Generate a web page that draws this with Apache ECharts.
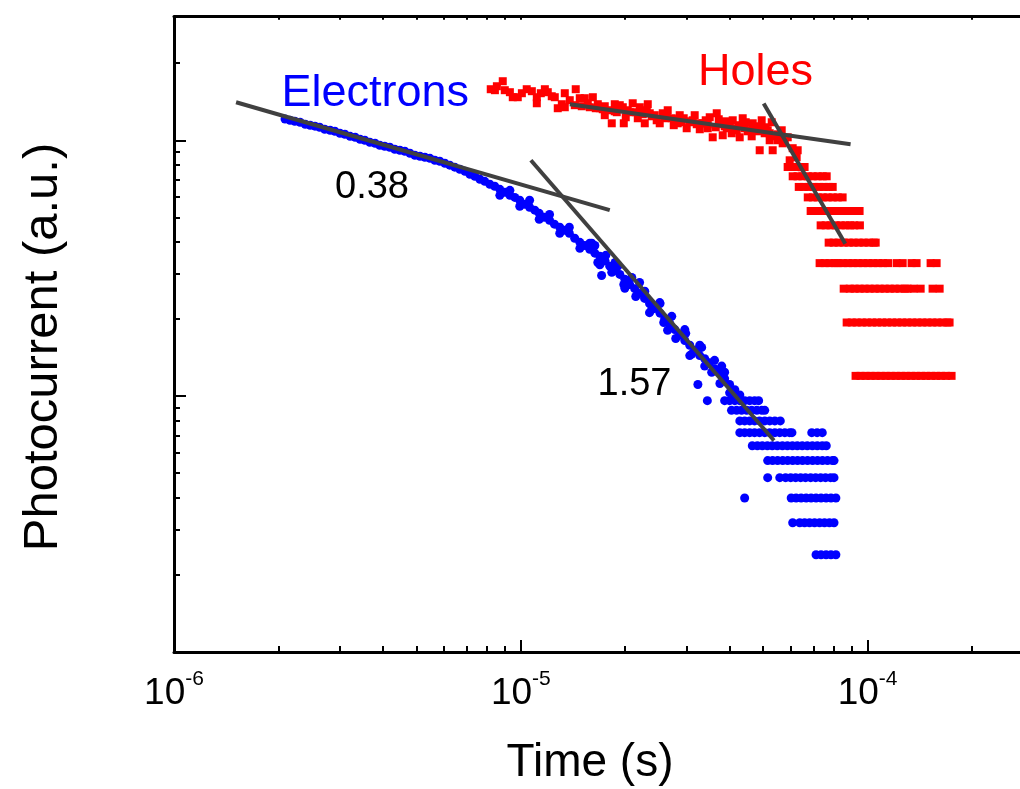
<!DOCTYPE html>
<html><head><meta charset="utf-8">
<script src="https://cdn.jsdelivr.net/npm/echarts@6/dist/echarts.min.js"></script>
<style>html,body{margin:0;padding:0;background:#fff}#c{width:1020px;height:789px}</style>
</head><body><div id="c"></div>
<script>
// ---------- axis ranges & ticks ----------
const X_MIN = 1e-6, X_MAX = 2.75e-4;
const Y_MIN = 0.1, Y_MAX = 30.4;
const xMajorTicks = [1e-6, 1e-5, 1e-4];
const xMinorTicks = [2e-6,3e-6,4e-6,5e-6,6e-6,7e-6,8e-6,9e-6,2e-5,3e-5,4e-5,5e-5,6e-5,7e-5,8e-5,9e-5,2e-4];
const yMajorTicks = [1, 10];
const yMinorTicks = [0.2,0.3,0.4,0.5,0.6,0.7,0.8,0.9,2,3,4,5,6,7,8,9,20];

// ---------- data (time in microseconds, photocurrent in a.u.) ----------
const electronCurve = [
 [2.09,12.1],[2.16,11.97],[2.23,11.86],[2.31,11.76],[2.39,11.55],[2.47,11.45],[2.55,11.35],[2.63,11.24],
 [2.72,11.04],[2.82,10.94],[2.91,10.84],[3.01,10.65],[3.11,10.55],[3.22,10.36],[3.33,10.27],[3.44,10.09],
 [3.55,10.0],[3.67,9.82],[3.80,9.73],[3.92,9.56],[4.05,9.47],[4.19,9.39],[4.33,9.22],[4.48,9.14],
 [4.63,9.06],[4.79,8.90],[4.95,8.74],[5.12,8.66],[5.29,8.58],[5.47,8.50],[5.65,8.35],[5.84,8.28],
 [6.04,8.13],[6.24,7.99],[6.45,7.85],[6.67,7.70],[6.90,7.56],[7.13,7.36],[7.37,7.23],[7.62,7.04],
 [7.87,6.91],[8.14,6.73],[8.41,6.61],
 [8.70,6.43],[9.00,6.26],[9.30,6.09],[9.61,5.98],[9.93,5.83],[10.27,5.62],[10.6,5.47],[10.97,5.33],
 [11.3,5.18],[11.7,5.00],[12.1,4.87],[12.5,4.70],[12.95,4.57],[13.4,4.45],[13.8,4.33],[14.3,4.14],
 [14.8,3.99],[15.3,3.88],[15.8,3.75],[16.35,3.62],[16.9,3.52],[17.5,3.37],[18.05,3.22],[18.7,3.10],
 [19.3,2.99],[19.95,2.86],[20.6,2.73],[21.3,2.63],[22.0,2.52],[22.75,2.41],[23.5,2.30],[24.3,2.20],
 [25.2,2.11],[26.0,2.01],[26.9,1.92],[27.8,1.82],[28.7,1.73],[29.7,1.65],[30.7,1.58],[31.7,1.51],
 [32.8,1.44],[33.9,1.40],[35.0,1.35],[36.2,1.28],[37.5,1.23],[38.7,1.17],[40.0,1.11],[41.4,1.06],[42.8,1.01],
 [8.70,6.09],[9.30,6.37],[9.93,5.52],[10.6,5.83],[11.3,4.91],[12.1,5.13],[12.95,4.33],[13.8,4.57],
 [14.8,3.78],[15.8,3.96],
 [16.35,3.88],[16.9,3.26],[17.1,2.96],[18.7,3.33],[19.95,2.64],[22.0,2.78],[23.5,2.12],[25.2,2.30],
 [26.5,1.81],[29.7,1.82],[30.7,1.44],[32.8,1.58],[33.9,1.31],[36.2,1.38],[37.5,1.12],[38.7,1.24],
 [40.0,1.03],[32.4,1.11],[34.5,0.96],
 [16.02,3.96],[16.67,3.33],[17.58,3.55],[18.29,3.05],[19.04,3.22],[19.81,2.73],[20.89,2.91],[21.45,2.45],
 [22.77,2.57],[23.85,2.18],[25.15,2.32],[25.83,1.94],[27.24,2.05],[27.97,1.68],[29.89,1.76],[31.10,1.46],
 [33.23,1.55],[35.51,1.24],[37.96,1.31],[41.38,1.01]
];
const electronTailLevels = [0.96, 0.88, 0.80, 0.72, 0.64, 0.56, 0.48, 0.40, 0.32, 0.24];
const electronTailTimes = [
 [38.7,40.0,41.4,42.8,44.2,45.7,47.2,48.5],
 [40.5,41.9,43.3,44.8,46.3,47.9,49.5,50.5],
 [42.8,44.2,45.7,47.2,48.8,50.5,52.2,54.0,56.0],
 [42.8,44.2,45.7,47.2,48.8,50.5,52.2,54.0,55.8,57.7,59.6,60.5,69.0,71.5,74.0],
 [46.5,48.1,49.7,51.4,53.1,54.9,56.8,58.7,60.7,62.7,64.8,67.0,69.3,71.6,74.0,76.0],
 [51.5,53.2,55.0,56.9,58.8,60.8,62.8,64.9,67.1,69.4,71.7,74.1,76.6,79.2,80.0],
 [51.5,55.8,58.0,60.0,62.0,64.1,66.2,68.5,70.8,73.2,75.6,78.2,80.0],
 [44.2,60.2,62.2,64.3,66.5,68.7,71.0,73.4,75.9,78.4,81.0],
 [60.8,63.7,65.8,68.0,70.3,72.7,75.1,77.6,80.0],
 [71.0,73.4,75.9,78.4,81.0]
];
const holeCurve = [
 [8.19,15.83],[8.42,15.69],[8.53,16.26],[8.87,17.01],[8.99,15.69],[9.30,15.41],[9.48,14.73],[9.80,14.73],
 [10.07,15.27],[10.40,15.83],[10.76,15.55],[11.12,14.73],[11.12,13.95],[11.42,15.27],[11.73,15.83],[11.96,15.41],
 [12.28,14.86],[12.53,14.73],[12.78,13.34],[13.13,13.83],[13.39,13.46],[13.39,15.27],[13.84,14.34],[14.40,15.83],
 [14.79,14.60],[15.29,14.60],[15.60,13.95],[16.13,14.73],[16.67,13.83],[16.89,13.34],[17.46,13.58],[18.05,13.10],
 [18.29,11.65],[18.91,12.87],[19.29,13.71],[19.68,13.46],[19.81,11.65],[20.34,13.10],[21.02,13.95],[21.45,12.87],
 [22.03,13.46],[22.77,11.65],[23.08,13.10],[23.54,12.75],[24.33,12.53],[25.15,11.65],[25.66,12.75],[26.35,12.30],
 [27.24,12.19],[27.97,11.86],[28.34,11.65],[28.72,12.53],[29.49,12.19],[30.08,11.14],[30.69,11.76],[31.30,11.97],
 [32.16,11.55],[33.46,11.65],[34.13,11.97],[35.05,12.30],[35.75,10.27],[36.48,11.24],[36.72,12.75],[37.46,11.55],
 [38.21,10.46],[39.24,11.14],[40.03,11.34],[40.83,11.97],[41.93,10.94],[42.77,10.27],[43.63,12.19],[44.21,11.14],
 [45.10,10.84],[46.62,11.65],[47.55,10.94],[48.84,9.14],[49.49,11.97],[50.49,10.65],[51.50,10.94],[52.19,10.0],
 [53.24,9.14],[53.95,10.36],[55.78,10.46],[56.89,9.73],[57.66,10.0],[59.60,8.35],[60.80,9.31],[62.43,8.58],
 [62.85,9.14],[64.54,7.84],
 [14.31,13.71],[14.99,13.58],[15.81,13.46],[16.45,13.34],[17.23,13.22],[18.66,12.98],[20.61,12.87],[22.47,12.64],
 [23.85,12.41],[26.00,12.19],[27.79,12.08],[30.69,11.86],[32.81,11.65],[34.59,11.55],[38.72,11.34],[41.38,11.14],
 [45.70,10.94],[48.19,10.84],[52.19,10.65],[55.04,10.55],
 [17.46,12.53],[18.66,13.83],[20.07,12.30],[21.74,12.19],[23.23,13.83],[24.65,11.97],[26.52,13.10],[27.60,11.45],
 [29.11,11.76],[31.72,12.53],[32.81,11.04],[34.59,11.14],[37.21,12.08],[38.98,11.86],[40.56,10.65],[42.50,11.45],
 [44.51,11.76],[46.31,10.36],[48.52,11.34],[50.82,11.24],[52.90,11.76],[55.04,10.0],[56.53,10.94],[58.83,10.27]
];
const holeTailLevels = [7.86, 7.23, 6.57, 5.98, 5.29, 4.65, 3.98, 3.31, 2.63, 1.94, 1.20];
const holeTailTimes = [
 [58.8,60.8,62.8,64.9,65.8],
 [60.8,62.8,64.9,67.2,69.4,71.8,74.2,76.2],
 [63.3,65.4,67.6,69.9,72.3,74.7,77.2,79.3],
 [67.2,69.5,71.8,74.2,76.7,79.3,82.0,84.7],
 [68.5,70.8,73.2,75.7,78.2,80.9,83.6,85.9,89.9,92.3,94.8],
 [73.2,75.7,78.2,80.9,83.6,86.4,89.0,91.5,95.0],
 [77.2,79.8,82.5,85.3,88.2,91.1,94.2,97.4,100.7,104.1,105.5],
 [72.7,75.2,77.7,80.4,82.0,84.8,87.7,90.6,93.7,96.9,100.2,103.6,107.1,110.7,114.5,121.2,126.2,133.9,138.4,151.9,158.1],
 [85.3,88.8,91.7,94.8,98.0,101.3,104.8,108.3,112.0,115.8,119.7,123.8,128.0,130.4,135.7,142.2,153.9,161.3],
 [87.0,90.0,93.0,96.2,99.5,102.9,106.4,110.0,113.7,117.6,121.6,125.7,130.0,134.4,139.0,143.7,148.6,153.6,158.8,164.2,169.8,172.3],
 [92.3,95.4,98.7,102.0,105.5,109.1,112.8,116.6,120.6,124.7,128.9,133.3,137.8,142.5,147.3,152.3,157.5,162.8,168.4,174.6]
];
// fitted power-law lines (time in s)
const fitElectronShort = [[1.51e-6, 14.08], [1.805e-5, 5.33]];
const fitElectronLong  = [[1.069e-5, 8.35], [5.37e-5, 0.671]];
const fitHoleShort     = [[1.384e-5, 13.83], [8.93e-5, 9.65]];
const fitHoleLong      = [[5.015e-5, 13.92], [8.62e-5, 3.94]];

// ---------- build ----------
const US = 1e-6;
const toSec = arr => arr.map(p => [p[0] * US, p[1]]);
function levelsToPoints(levels, times) {
  const out = [];
  levels.forEach((lv, i) => times[i].forEach(t => out.push([t * US, lv])));
  return out;
}
const electronData = toSec(electronCurve).concat(levelsToPoints(electronTailLevels, electronTailTimes));
const holeData = toSec(holeCurve).concat(levelsToPoints(holeTailLevels, holeTailTimes));

const FONT = '"Liberation Sans", Arial, Helvetica, sans-serif';
const L10 = Math.log10;
const xLogMin = L10(X_MIN), xLogMax = L10(X_MAX);
const yLogMin = L10(Y_MIN), yLogMax = L10(Y_MAX);
const BLACK = '#000';

function overlayX(position, ticks, len, showLine, labels) {
  return {
    type: 'value', gridIndex: 0, position: position, min: xLogMin, max: xLogMax,
    axisLine: { show: showLine, onZero: false, lineStyle: { color: BLACK, width: 3 } },
    axisTick: { show: true, inside: true, length: len, customValues: ticks.map(L10), lineStyle: { color: BLACK, width: 2 } },
    axisLabel: labels || { show: false },
    splitLine: { show: false }
  };
}
function overlayY(ticks, len) {
  return {
    type: 'value', gridIndex: 0, position: 'left', min: yLogMin, max: yLogMax,
    axisLine: { show: false, onZero: false },
    axisTick: { show: true, inside: true, length: len, customValues: ticks.map(L10), lineStyle: { color: BLACK, width: 2 } },
    axisLabel: { show: false }, splitLine: { show: false }
  };
}

const chart = echarts.init(document.getElementById('c'), null, { renderer: 'canvas' });
chart.setOption({
  animation: false,
  backgroundColor: '#fff',
  grid: { left: 174, top: 16.7, right: 0, height: 635.3, containLabel: false },
  xAxis: [
    { type: 'log', logBase: 10, min: X_MIN, max: X_MAX, position: 'bottom',
      axisLine: { show: true, onZero: false, lineStyle: { color: BLACK, width: 3 } },
      axisTick: { show: false }, axisLabel: { show: false }, splitLine: { show: false }, minorTick: { show: false } },
    overlayX('bottom', xMajorTicks, 12, false, {
      show: true, customValues: xMajorTicks.map(L10), margin: 17,
      formatter: v => '{b|10}{s|' + Math.round(v) + '}',
      rich: {
        b: { fontSize: 37, fontFamily: FONT, color: BLACK, verticalAlign: 'bottom' },
        s: { fontSize: 21, fontFamily: FONT, color: BLACK, verticalAlign: 'bottom', padding: [0, 0, 22, 0] }
      }
    }),
    overlayX('bottom', xMinorTicks, 6, false),
    overlayX('top', xMajorTicks.concat(xMinorTicks), 3, true)
  ],
  yAxis: [
    { type: 'log', logBase: 10, min: Y_MIN, max: Y_MAX, position: 'left',
      axisLine: { show: true, onZero: false, lineStyle: { color: BLACK, width: 3 } },
      axisTick: { show: false }, axisLabel: { show: false }, splitLine: { show: false }, minorTick: { show: false } },
    overlayY(yMajorTicks, 12),
    overlayY(yMinorTicks, 6)
  ],
  series: [
    { name: 'Holes', type: 'scatter', xAxisIndex: 0, yAxisIndex: 0, data: holeData,
      symbol: 'rect', symbolSize: 8, itemStyle: { color: '#ff0000', opacity: 1 } },
    { name: 'Electrons', type: 'scatter', xAxisIndex: 0, yAxisIndex: 0, data: electronData,
      symbol: 'circle', symbolSize: 9, itemStyle: { color: '#0000ff', opacity: 1 } },
    ...[fitElectronShort, fitElectronLong, fitHoleShort, fitHoleLong].map(d => ({
      type: 'line', xAxisIndex: 0, yAxisIndex: 0, data: d, symbol: 'none',
      lineStyle: { color: '#404040', width: 4, cap: 'butt' }, z: 5
    }))
  ],
  graphic: [
    { type: 'text', x: 281.5, y: 93.7, style: { text: 'Electrons', font: '45px ' + FONT, fill: '#0000ff', align: 'left', verticalAlign: 'middle', textAlign: 'left', textVerticalAlign: 'middle' } },
    { type: 'text', x: 698, y: 73, style: { text: 'Holes', font: '45px ' + FONT, fill: '#ff0000', align: 'left', verticalAlign: 'middle', textAlign: 'left', textVerticalAlign: 'middle' } },
    { type: 'text', x: 335, y: 187.2, style: { text: '0.38', font: '38px ' + FONT, fill: BLACK, align: 'left', verticalAlign: 'middle', textAlign: 'left', textVerticalAlign: 'middle' } },
    { type: 'text', x: 597.5, y: 384.9, style: { text: '1.57', font: '38px ' + FONT, fill: BLACK, align: 'left', verticalAlign: 'middle', textAlign: 'left', textVerticalAlign: 'middle' } },
    { type: 'text', x: 590, y: 763, style: { text: 'Time (s)', font: '46px ' + FONT, fill: BLACK, align: 'center', verticalAlign: 'middle', textAlign: 'center', textVerticalAlign: 'middle' } },
    { type: 'text', x: 43, y: 347, rotation: Math.PI / 2, style: { text: 'Photocurrent (a.u.)', font: '49px ' + FONT, fill: BLACK, align: 'center', verticalAlign: 'middle', textAlign: 'center', textVerticalAlign: 'middle' } }
  ]
});
</script></body></html>
